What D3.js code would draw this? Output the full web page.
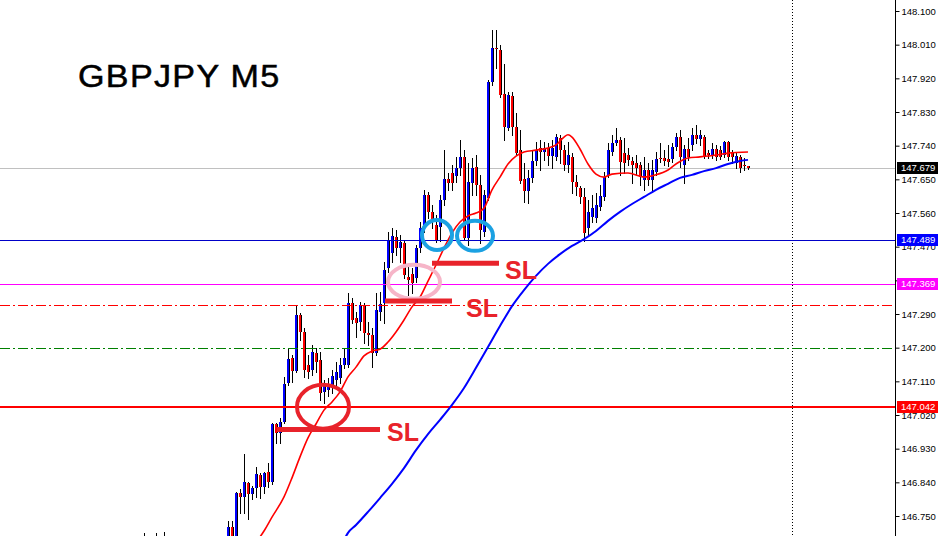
<!DOCTYPE html>
<html><head><meta charset="utf-8">
<script src="https://cdn.jsdelivr.net/npm/d3@7/dist/d3.min.js"></script>
<style>body{margin:0;background:#fff;} svg{display:block;}</style>
</head><body>
<script>
// ---------------- DATA ----------------
const chartTitle = "GBPJPY M5";
const yTicks = [148.100,148.010,147.920,147.830,147.740,147.650,147.560,147.470,147.380,147.290,147.200,147.110,147.020,146.930,146.840,146.750];
const N = null;
// one entry per M5 bar (null = bar entirely below the visible price range)
const opens = [146.670,N,N,146.664,N,146.686,N,N,N,N,N,N,N,N,N,N,N,N,N,N,N,
146.686,146.721,146.686,146.812,146.801,146.838,146.809,146.825,146.860,146.828,146.868,146.841,146.996,146.972,147.001,147.106,147.172,147.138,147.287,147.242,
147.154,147.140,147.186,147.167,147.082,147.087,147.100,147.114,147.119,147.154,147.154,147.319,147.279,147.269,147.314,147.239,147.234,147.186,147.295,147.319,
147.413,147.453,147.496,147.466,147.480,147.389,147.397,147.386,147.466,147.520,147.608,147.563,147.528,147.523,147.595,147.651,147.667,147.659,147.680,147.710,
147.493,147.640,147.683,147.635,147.509,147.600,147.910,148.001,147.996,147.878,147.787,147.873,147.790,147.728,147.651,147.619,147.654,147.699,147.734,147.723,
147.734,147.712,147.710,147.761,147.728,147.688,147.710,147.643,147.627,147.603,147.520,147.549,147.547,147.576,147.603,147.662,147.723,147.747,147.755,147.720,
147.715,147.699,147.694,147.688,147.648,147.675,147.648,147.670,147.707,147.707,147.704,147.704,147.736,147.763,147.688,147.731,147.742,147.769,147.758,147.763,
147.720,147.715,147.731,147.728,147.715,147.750,147.720,147.694,147.710,147.688,147.686];
const highs = [146.705,N,N,146.705,N,146.707,N,N,N,N,N,N,N,N,N,N,N,N,N,N,N,
146.737,146.737,146.814,146.822,146.916,146.841,146.830,146.881,146.865,146.868,146.892,146.999,146.999,147.012,147.122,147.196,147.180,147.314,147.293,147.253,
147.180,147.207,147.199,147.189,147.114,147.119,147.140,147.162,147.172,147.199,147.346,147.333,147.295,147.322,147.319,147.269,147.253,147.346,147.349,147.429,
147.509,147.520,147.515,147.501,147.488,147.421,147.413,147.474,147.536,147.622,147.616,147.581,147.555,147.608,147.728,147.667,147.688,147.710,147.755,147.728,
147.694,147.707,147.715,147.662,147.622,147.916,148.049,148.049,148.009,147.958,147.884,147.884,147.827,147.782,147.694,147.675,147.728,147.750,147.755,147.750,
147.747,147.755,147.771,147.769,147.742,147.750,147.720,147.662,147.632,147.627,147.595,147.608,147.614,147.635,147.670,147.747,147.769,147.787,147.763,147.761,
147.734,147.710,147.715,147.696,147.710,147.694,147.702,147.723,147.747,147.728,147.742,147.747,147.774,147.782,147.742,147.761,147.787,147.795,147.782,147.769,
147.728,147.747,147.742,147.739,147.752,147.752,147.728,147.723,147.715,147.707,147.686];
const lows = [146.659,N,N,146.654,N,146.654,N,N,N,N,N,N,N,N,N,N,N,N,N,N,N,
146.672,146.672,146.681,146.758,146.758,146.742,146.795,146.801,146.798,146.812,146.828,146.836,146.945,146.945,146.999,147.100,147.108,147.135,147.221,147.122,
147.119,147.127,147.135,147.060,147.052,147.071,147.079,147.100,147.106,147.146,147.148,147.266,147.229,147.247,147.213,147.207,147.148,147.180,147.274,147.266,
147.402,147.429,147.448,147.429,147.386,147.341,147.346,147.376,147.456,147.509,147.547,147.520,147.483,147.485,147.581,147.622,147.622,147.643,147.662,147.488,
147.474,147.608,147.608,147.480,147.499,147.595,147.902,147.948,147.870,147.755,147.782,147.769,147.715,147.640,147.589,147.587,147.643,147.688,147.675,147.702,
147.688,147.680,147.702,147.694,147.675,147.670,147.614,147.608,147.587,147.485,147.499,147.536,147.536,147.568,147.595,147.656,147.715,147.742,147.662,147.667,
147.688,147.640,147.662,147.635,147.622,147.635,147.616,147.662,147.696,147.688,147.686,147.696,147.728,147.683,147.640,147.702,147.728,147.747,147.742,147.707,
147.707,147.707,147.702,147.704,147.710,147.702,147.694,147.680,147.670,147.675,147.678];
const closes = [146.683,N,N,146.683,N,146.670,N,N,N,N,N,N,N,N,N,N,N,N,N,N,N,
146.721,146.686,146.812,146.801,146.841,146.809,146.825,146.862,146.828,146.865,146.841,146.996,146.972,147.001,147.103,147.170,147.138,147.287,147.242,147.140,
147.135,147.189,147.162,147.079,147.106,147.103,147.124,147.135,147.154,147.172,147.319,147.274,147.266,147.314,147.239,147.234,147.186,147.301,147.317,147.408,
147.488,147.499,147.466,147.483,147.394,147.381,147.373,147.466,147.520,147.608,147.563,147.536,147.488,147.595,147.651,147.640,147.640,147.680,147.710,147.493,
147.643,147.680,147.635,147.515,147.608,147.910,148.001,147.998,147.875,147.790,147.875,147.790,147.720,147.646,147.619,147.654,147.699,147.728,147.723,147.734,
147.712,147.734,147.763,147.728,147.688,147.715,147.643,147.630,147.603,147.507,147.563,147.573,147.581,147.606,147.656,147.728,147.747,147.755,147.696,147.694,
147.702,147.688,147.680,147.656,147.675,147.648,147.675,147.704,147.704,147.699,147.696,147.736,147.763,147.710,147.731,147.710,147.769,147.758,147.769,147.710,
147.715,147.731,147.710,147.710,147.750,147.710,147.710,147.712,147.680,147.686,147.679];

// fast moving average (red) at these bars
const maFastBars = [29,30,32,35,37,39,41,43,45,47,49,51,53,55,57,59,61,63,65,67,69,71,73,75,77,79,81,83,85,87,89,91,93,95,98,101,103,105,106,107,109,111,113,115,117,121,125,128,131,133,136,139,143,146,151];
const maFastVals = [146.694,146.710,146.747,146.801,146.852,146.908,146.959,146.996,147.033,147.055,147.082,147.122,147.148,147.178,147.191,147.196,147.215,147.242,147.274,147.309,147.335,147.378,147.421,147.466,147.507,147.536,147.552,147.560,147.573,147.622,147.656,147.691,147.712,147.723,147.728,147.734,147.742,147.763,147.769,147.763,147.731,147.691,147.664,147.656,147.664,147.667,147.656,147.662,147.675,147.691,147.707,147.710,147.715,147.720,147.723];
// slow moving average (blue)
const maSlowBars = [50,51,53,56,59,62,65,68,71,74,77,80,83,86,89,92,95,98,101,104,107,110,113,116,119,122,125,128,131,134,137,140,143,146,149,151];
const maSlowVals = [146.686,146.705,146.726,146.761,146.798,146.836,146.878,146.926,146.969,147.007,147.047,147.092,147.146,147.202,147.258,147.311,147.354,147.392,147.424,147.450,147.472,147.490,147.512,147.539,147.563,147.584,147.603,147.622,147.638,147.654,147.662,147.672,147.680,147.691,147.699,147.702];

const bidPrice = 147.679;
// horizontal level lines: blue, magenta, red dash-dot, green dash-dot, red
const levelPrices = [147.489, 147.369, 147.313, 147.200, 147.042];
const labelledLevels = [147.489, 147.369, 147.042];

// annotations
const slStartBars = [33.25, 60.25, 72];
const slEndBars = [59, 77, 88.75];
const slPrices = [146.981, 147.325, 147.426];
const circleBars = [44.75, 67.5, 73.25, 82.75];
const circlePrices = [147.042, 147.376, 147.501, 147.499];
const separatorBar = 162;

// ---------------- DRAW ----------------
const W = 941, H = 536, axisX = 895;
const svg = d3.select("body").append("svg").attr("width", W).attr("height", H)
  .style("font-family", "'Liberation Sans', Arial, sans-serif");

const y = d3.scaleLinear().domain([146.750, 148.100]).range([516, 11]);
const x = d3.scaleLinear().domain([0, 151]).range([144, 748]);

svg.append("defs").append("clipPath").attr("id", "plot")
  .append("rect").attr("x", 0).attr("y", 0).attr("width", axisX).attr("height", H);
const plot = svg.append("g").attr("clip-path", "url(#plot)");

const py = v => Math.round(y(v)) + 0.5;

// bid line
plot.append("line").attr("x1", 0).attr("x2", axisX).attr("y1", py(bidPrice)).attr("y2", py(bidPrice))
  .attr("stroke", "#c0c0c0").attr("stroke-width", 1).attr("shape-rendering", "crispEdges");

// vertical dotted separator
plot.append("line").attr("x1", Math.round(x(separatorBar)) + 0.5).attr("x2", Math.round(x(separatorBar)) + 0.5)
  .attr("y1", 0).attr("y2", H).attr("stroke", "#000").attr("stroke-dasharray", "1,2");

// candles
const bars = d3.range(opens.length).map(i => ({i, o: opens[i], h: highs[i], l: lows[i], c: closes[i]}))
  .filter(d => d.o != null);
const cg = plot.append("g").attr("shape-rendering", "crispEdges");
const bodyTop = d => Math.round(y(Math.max(d.o, d.c)));
const bodyH = d => Math.max(1, Math.round(y(Math.min(d.o, d.c))) - bodyTop(d));
cg.selectAll("line.wick").data(bars).join("line").attr("class", "wick")
  .attr("x1", d => Math.round(x(d.i)) + 0.5).attr("x2", d => Math.round(x(d.i)) + 0.5)
  .attr("y1", d => Math.round(y(d.h))).attr("y2", d => Math.round(y(d.l)) + 1)
  .attr("stroke", "#000").attr("stroke-width", 1);
cg.selectAll("rect.body").data(bars).join("rect").attr("class", "body")
  .attr("x", d => Math.round(x(d.i)) - 1).attr("width", 3)
  .attr("y", bodyTop).attr("height", bodyH)
  .attr("fill", d => d.c > d.o ? "#0000ff" : (d.c < d.o ? "#ff0000" : "#000"));
cg.selectAll("line.edge").data(bars).join("line").attr("class", "edge")
  .attr("x1", d => Math.round(x(d.i)) + 1.5).attr("x2", d => Math.round(x(d.i)) + 1.5)
  .attr("y1", bodyTop).attr("y2", d => bodyTop(d) + bodyH(d))
  .attr("stroke", "#000").attr("stroke-width", 1);

// level lines
const levelStyle = [
  {color: "#0000c8", w: 1, dash: null},
  {color: "#ff00ff", w: 1, dash: null},
  {color: "#ff0000", w: 1, dash: "10,3,2,3"},
  {color: "#008000", w: 1, dash: "10,3,2,3"},
  {color: "#ff0000", w: 2, dash: null}
];
levelPrices.forEach((p, k) => {
  const s = levelStyle[k];
  const ly = s.w === 2 ? Math.round(y(p)) : py(p);
  plot.append("line").attr("x1", 0).attr("x2", axisX).attr("y1", ly).attr("y2", ly)
    .attr("stroke", s.color).attr("stroke-width", s.w).attr("shape-rendering", "crispEdges")
    .attr("stroke-dasharray", s.dash);
});

// moving averages
const lineGen = d3.line().x(d => x(d[0])).y(d => y(d[1])).curve(d3.curveMonotoneX);
plot.append("path").datum(maSlowBars.map((b, k) => [b, maSlowVals[k]]))
  .attr("d", lineGen).attr("fill", "none").attr("stroke", "#0000ff").attr("stroke-width", 2);
plot.append("path").datum(maFastBars.map((b, k) => [b, maFastVals[k]]))
  .attr("d", lineGen).attr("fill", "none").attr("stroke", "#ff0000").attr("stroke-width", 1.6);

// annotations
const annRed = "#e8232b";
const circleStyle = [
  {color: annRed, rx: 26, ry: 22},
  {color: "#f6b5c8", rx: 26, ry: 17},
  {color: "#1ba1e2", rx: 15, ry: 15},
  {color: "#1ba1e2", rx: 18, ry: 15}
];
circleBars.forEach((b, k) => {
  const s = circleStyle[k];
  plot.append("ellipse").attr("cx", x(b)).attr("cy", y(circlePrices[k]))
    .attr("rx", s.rx).attr("ry", s.ry).attr("fill", "none").attr("stroke", s.color).attr("stroke-width", 4);
});
const slTextOffset = [[7, 11.5], [14, 16], [6, 16]];
slPrices.forEach((p, k) => {
  plot.append("line").attr("x1", x(slStartBars[k])).attr("x2", x(slEndBars[k]))
    .attr("y1", y(p)).attr("y2", y(p)).attr("stroke", annRed).attr("stroke-width", 5);
  plot.append("text").attr("x", x(slEndBars[k]) + slTextOffset[k][0]).attr("y", y(p) + slTextOffset[k][1])
    .attr("fill", annRed).attr("font-size", 25).attr("font-weight", "bold").text("SL");
});

// title
svg.append("text").attr("transform", "translate(78,87) scale(1.1,1)").attr("font-size", 31)
  .attr("letter-spacing", 1.2).attr("fill", "#000").attr("stroke", "#000").attr("stroke-width", 0.5)
  .text(chartTitle);

// price axis
svg.append("line").attr("x1", axisX + 0.5).attr("x2", axisX + 0.5).attr("y1", 0).attr("y2", H)
  .attr("stroke", "#000").attr("stroke-width", 1);
const axis = d3.axisRight(y).tickValues(yTicks).tickSize(4).tickPadding(2).tickFormat(d3.format(".3f"));
const ag = svg.append("g").attr("transform", `translate(${axisX + 0.5},0)`).call(axis);
ag.select(".domain").remove();
ag.selectAll("text").attr("font-size", 9.5).attr("font-family", "'Liberation Sans', Arial, sans-serif").attr("fill", "#000");
ag.selectAll("line").attr("stroke", "#000");

// price boxes
const boxColor = {"147.489": "#0000ff", "147.369": "#ff00ff", "147.042": "#ff0000"};
const boxes = [[bidPrice, "#000"]].concat(labelledLevels.map(p => [p, boxColor[p.toFixed(3)]]));
boxes.forEach(([p, col]) => {
  const cy = Math.round(y(p));
  svg.append("rect").attr("x", 897).attr("y", cy - 6).attr("width", 41).attr("height", 12).attr("fill", col);
  svg.append("text").attr("x", 901).attr("y", cy).attr("dy", "0.35em").attr("font-size", 9.5)
    .attr("fill", "#fff").text(p.toFixed(3));
});
</script>
</body></html>
